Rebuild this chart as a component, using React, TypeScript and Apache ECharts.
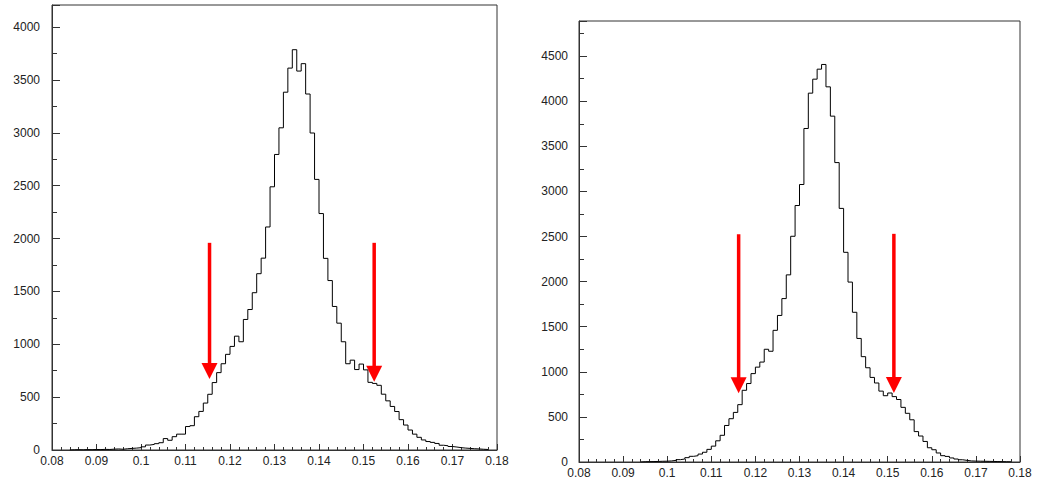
import React, { useEffect, useRef } from "react";
import * as echarts from "echarts";

// Histogram binning (x in the same units as the axis)
const binWidth = 0.001;
const leftStart = 0.084;
const rightStart = 0.094;

// Left histogram bin contents, starting at leftStart
const leftCounts = [
  2, 3, 2, 4, 3, 5, 4, 6, 5, 8, 10, 7, 12, 15, 18, 22,
  30, 47, 53, 60, 69, 108, 92, 126, 150, 150,
  222, 230, 315, 365, 444, 527, 638, 732, 816, 905,
  980, 1077, 1024, 1235, 1329, 1488, 1668, 1815, 2110, 2490,
  2796, 3048, 3385, 3613, 3787, 3585, 3655, 3368, 2999, 2560,
  2237, 1813, 1603, 1358, 1200, 1024, 816, 850, 761, 813,
  758, 640, 630, 612, 528, 465, 412, 364, 287, 236,
  189, 150, 120, 95, 80, 72, 62, 45, 40, 33,
  28, 22, 18, 15, 12, 10, 7, 5,
];

// Right histogram bin contents, starting at rightStart
const rightCounts = [
  3, 4, 5, 6, 8, 9,
  12, 18, 26, 33, 48, 63, 70, 88, 108, 140,
  176, 235, 296, 405, 480, 550, 636, 795, 870, 980,
  1052, 1108, 1250, 1228, 1460, 1625, 1812, 2075, 2503, 2844,
  3077, 3698, 4090, 4245, 4356, 4408, 4160, 3835, 3320, 2812,
  2325, 1995, 1660, 1370, 1168, 1045, 938, 876, 786, 735,
  765, 725, 693, 606, 540, 468, 337, 288, 228, 158,
  136, 100, 70, 62, 45, 33, 25, 18, 12, 10,
  9, 8, 7, 6, 5, 4, 3, 2,
];

// Arrows: [x, top value, tip value]
const leftArrows = [
  [0.1154, 1960, 672],
  [0.1524, 1960, 645],
];
const rightArrows = [
  [0.1162, 2525, 762],
  [0.1514, 2530, 765],
];

const xTicks = { min: 0.08, max: 0.18, interval: 0.01 };
const leftYMax = 4210;
const rightYMax = 4890;
const yInterval = 500;

function histPoints(start: number, counts: number[]) {
  const pts: number[][] = [[start, 0]];
  counts.forEach((c, i) => pts.push([start + i * binWidth, c]));
  const end = start + counts.length * binWidth;
  pts.push([end, counts[counts.length - 1]]);
  pts.push([end, 0]);
  return pts;
}

const arrowRender = (params: any, api: any) => {
  const x = api.value(0);
  const top = api.value(1);
  const tip = api.value(2);
  const pTop = api.coord([x, top]);
  const pTip = api.coord([x, tip]);
  const hw = 8;
  const hh = 16;
  const sw = 3.5;
  return {
    type: "group",
    children: [
      {
        type: "rect",
        shape: { x: pTop[0] - sw / 2, y: pTop[1], width: sw, height: pTip[1] - hh - pTop[1] + 1 },
        style: { fill: "#ff0000" },
      },
      {
        type: "polygon",
        shape: {
          points: [
            [pTip[0] - hw, pTip[1] - hh],
            [pTip[0] + hw, pTip[1] - hh],
            [pTip[0], pTip[1]],
          ],
        },
        style: { fill: "#ff0000" },
      },
    ],
  };
};

const font = "Liberation Sans";

function xAxisCfg(gridIndex: number) {
  return {
    type: "value" as const,
    gridIndex,
    min: xTicks.min,
    max: xTicks.max,
    interval: xTicks.interval,
    axisLine: { show: true, lineStyle: { color: "#333", width: 1 } },
    axisTick: { show: true, inside: true, length: 6, lineStyle: { color: "#333" } },
    minorTick: { show: true, splitNumber: 5, length: 3, lineStyle: { color: "#333" } },
    splitLine: { show: false },
    axisLabel: {
      margin: 5,
      color: "#222",
      fontSize: 12,
      fontFamily: font,
      formatter: (v: number) => String(Math.round(v * 1000) / 1000),
    },
  };
}

function yAxisCfg(gridIndex: number, max: number, margin: number) {
  return {
    type: "value" as const,
    gridIndex,
    min: 0,
    max,
    interval: yInterval,
    axisLine: { show: true, lineStyle: { color: "#333", width: 1 } },
    axisTick: { show: true, inside: true, length: 8, lineStyle: { color: "#333" } },
    minorTick: { show: true, splitNumber: 2, length: 5, lineStyle: { color: "#333" } },
    splitLine: { show: false },
    axisLabel: {
      margin,
      color: "#222",
      fontSize: 12,
      fontFamily: font,
      formatter: (v: number) => (Math.round(v) % yInterval === 0 ? String(Math.round(v)) : ""),
    },
  };
}

export default function App() {
  const ref = useRef<HTMLDivElement>(null);
  useEffect(() => {
    document.body.style.margin = "0";
    if (!ref.current) return;
    const chart = echarts.init(ref.current, undefined, { renderer: "svg" });
    chart.setOption({
      animation: false,
      backgroundColor: "#ffffff",
      grid: [
        { left: 52, top: 5, width: 445, height: 445, show: true, borderColor: "#333", borderWidth: 1, backgroundColor: "transparent" },
        { left: 579, top: 21, width: 441, height: 441, show: true, borderColor: "#333", borderWidth: 1, backgroundColor: "transparent" },
      ],
      xAxis: [xAxisCfg(0), xAxisCfg(1)],
      yAxis: [yAxisCfg(0, leftYMax, 12), yAxisCfg(1, rightYMax, 11)],
      series: [
        {
          type: "line",
          xAxisIndex: 0,
          yAxisIndex: 0,
          step: "end",
          symbol: "none",
          data: histPoints(leftStart, leftCounts),
          lineStyle: { color: "#000", width: 1 },
        },
        {
          type: "line",
          xAxisIndex: 1,
          yAxisIndex: 1,
          step: "end",
          symbol: "none",
          data: histPoints(rightStart, rightCounts),
          lineStyle: { color: "#000", width: 1 },
        },
        {
          type: "custom",
          xAxisIndex: 0,
          yAxisIndex: 0,
          renderItem: arrowRender,
          data: leftArrows,
          clip: false,
          z: 5,
        },
        {
          type: "custom",
          xAxisIndex: 1,
          yAxisIndex: 1,
          renderItem: arrowRender,
          data: rightArrows,
          clip: false,
          z: 5,
        },
      ],
    });
    return () => chart.dispose();
  }, []);
  return <div ref={ref} style={{ width: 1040, height: 481 }} />;
}
